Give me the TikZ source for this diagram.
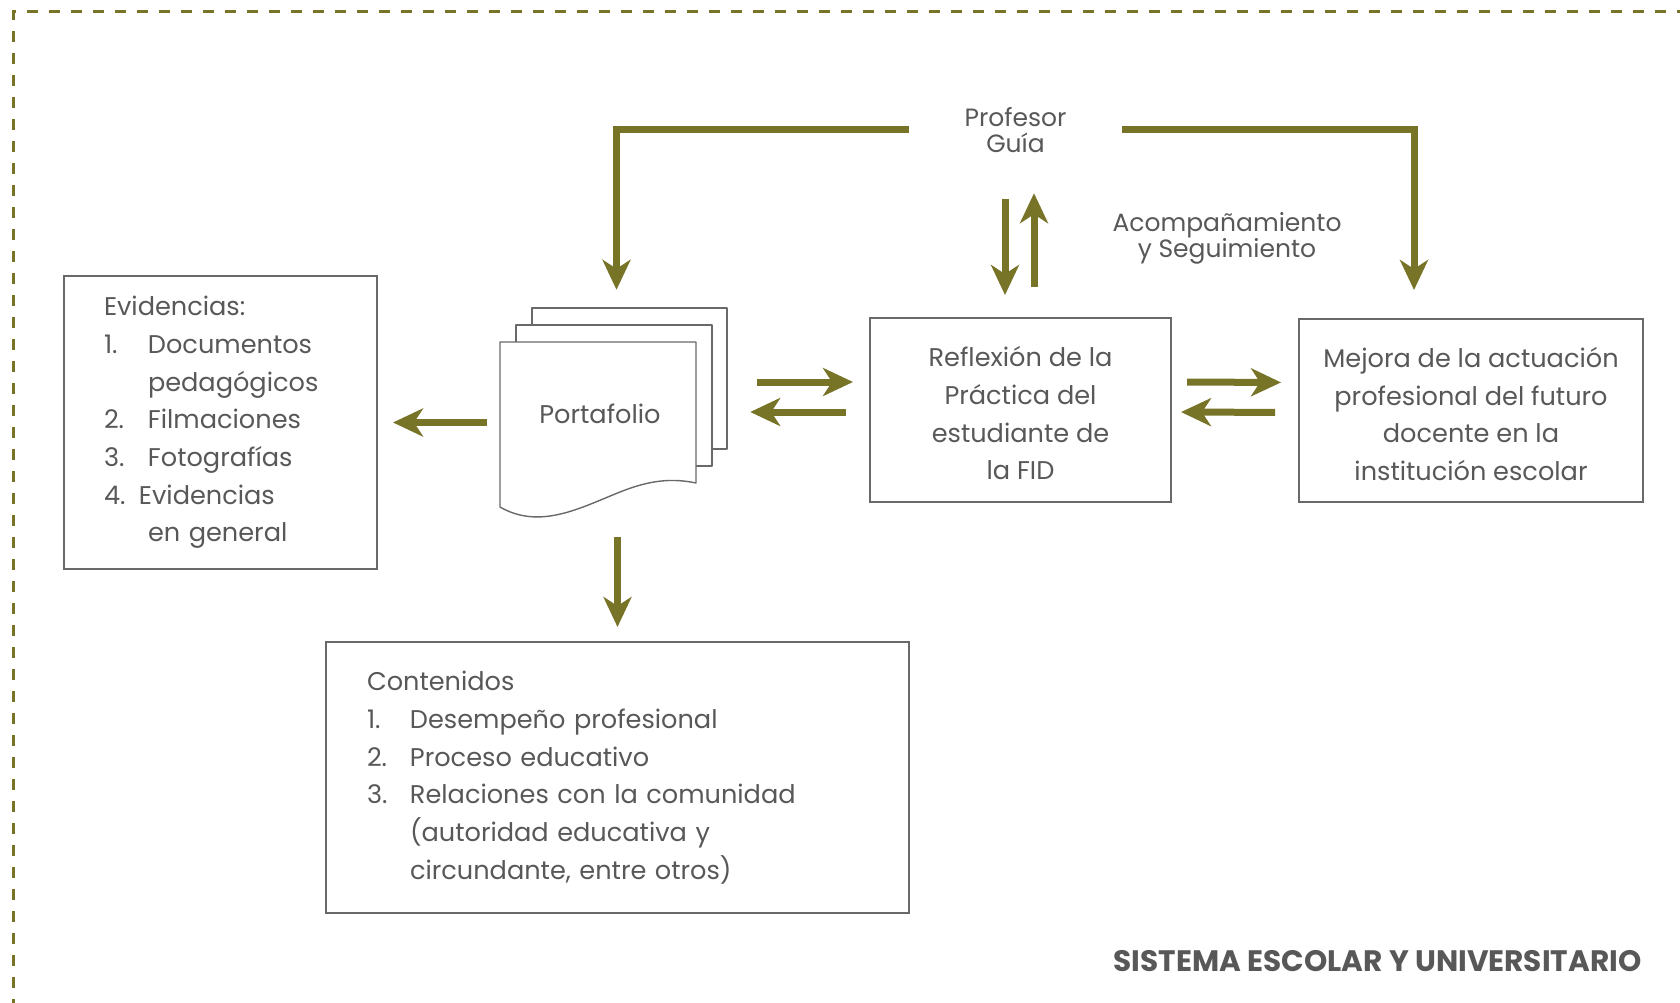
\documentclass[tikz,border=0pt]{standalone}
\usepackage{fontspec}
\setmainfont{Poppins}
\usetikzlibrary{arrows.meta}
\definecolor{olivec}{RGB}{119,116,40}
\definecolor{txt}{RGB}{88,88,88}
\definecolor{boxline}{RGB}{105,105,105}
\begin{document}
\begin{tikzpicture}[x=1pt,y=-1pt,
  every node/.style={text=txt, font=\fontsize{25.6}{37.7}\selectfont},
  box/.style={draw=boxline, line width=1.4pt, inner sep=0pt, outer sep=0pt},
  page/.style={draw=boxline, line width=1.4pt, fill=white, line join=round},
  conn/.style={draw=olivec, line width=7pt, line join=miter, -{Stealth[length=30pt,width=28pt,inset=9pt]}},
]
\useasboundingbox (0,0) rectangle (1680,1003);
\begin{scope}
\clip (0,0) rectangle (1680,1003);
\draw[olivec, line width=3pt, dash pattern=on 11pt off 11pt] (13,1010) -- (13,12) -- (1690,12);
\end{scope}

% boxes
\node[box, minimum width=313pt, minimum height=293pt, text width=233pt, align=left] (evid) at (220.5,422.5)
 {Evidencias:\\
  \makebox[44pt][l]{1.}Documentos\\
  \hspace*{44pt}pedagógicos\\
  \makebox[44pt][l]{2.}Filmaciones\\
  \makebox[44pt][l]{3.}Fotografías\\
  \makebox[35pt][l]{4.}Evidencias\\
  \hspace*{44pt}en general};
\node[box, minimum width=583pt, minimum height=271pt, text width=501pt, align=left] (cont) at (617.5,777.5)
 {Contenidos\\
  \makebox[43pt][l]{1.}Desempeño profesional\\
  \makebox[43pt][l]{2.}Proceso educativo\\
  \makebox[43pt][l]{3.}Relaciones con la comunidad\\
  \hspace*{43pt}(autoridad educativa y\\
  \hspace*{43pt}circundante, entre otros)};
\node[box, minimum width=301pt, minimum height=184pt, align=center] (refl) at (1020.5,410)
 {\rule{0pt}{27pt}Reflexión de la\\Práctica del\\estudiante de\\la FID};
\node[box, minimum width=344pt, minimum height=183pt, align=center] (mej) at (1471,410.5)
 {\rule{0pt}{27pt}Mejora de la actuación\\profesional del futuro\\docente en la\\institución escolar};

% portfolio stack
\draw[page] (532,325) -- (532,308) -- (727,308) -- (727,449) -- (712,449);
\draw[page] (516,342) -- (516,325) -- (712,325) -- (712,466) -- (696,466);
\draw[page] (500,342) -- (696,342) -- (696,483)
  .. controls (672,478) and (650,480) .. (620,492)
  .. controls (580,508) and (540,530) .. (500,507) -- cycle;
\node[inner sep=0pt, minimum width=227pt, minimum height=212pt] (stack) at (613.5,414) {};
\node (port) at (600,414) {Portafolio};

% profesor guia
\node[inner xsep=0pt, minimum width=213pt, minimum height=126pt, align=center,
      font=\fontsize{25}{26}\selectfont] (prof) at (1015.5,130) {Profesor\\Guía};
\node[align=center, font=\fontsize{25}{26}\selectfont] (acomp) at (1227,238) {Acompañamiento\\y Seguimiento};

% connectors
\draw[conn, shorten >=18pt] (prof.west) -| ([xshift=3pt]stack.north);
\draw[conn, shorten >=29pt] (prof.east) -| ([xshift=-57pt]mej.north);
\draw[conn, shorten <=6pt, shorten >=23pt] ([xshift=-10.5pt]prof.south) -- ([xshift=-15.5pt]refl.north);
\draw[conn, shorten <=31pt] ([xshift=13.5pt]refl.north) -- ([xshift=18.5pt]prof.south);
\draw[conn, shorten <=13pt, shorten >=16pt] (stack.west |- evid.east) -- (evid.east);
\draw[conn, shorten <=17pt, shorten >=15pt] (cont.north |- stack.south) -- (cont.north);
\draw[conn, shorten <=30pt, shorten >=17pt] ([yshift=28pt]stack.east |- refl.west) -- ([yshift=28pt]refl.west);
\draw[conn, shorten <=24pt, shorten >=23pt] ([yshift=-2pt]refl.west) -- ([yshift=-2pt]stack.east |- refl.west);
\draw[conn, shorten <=16pt, shorten >=18pt] ([yshift=28pt]refl.east) -- ([yshift=28pt]mej.west);
\draw[conn, shorten <=24pt, shorten >=10pt] ([yshift=-2pt]mej.west) -- ([yshift=-2pt]refl.east);

\node[anchor=base east, font=\fontsize{29.6}{34}\selectfont\bfseries] (sys) at (1645,971) {SISTEMA ESCOLAR Y UNIVERSITARIO};
\end{tikzpicture}
\end{document}
